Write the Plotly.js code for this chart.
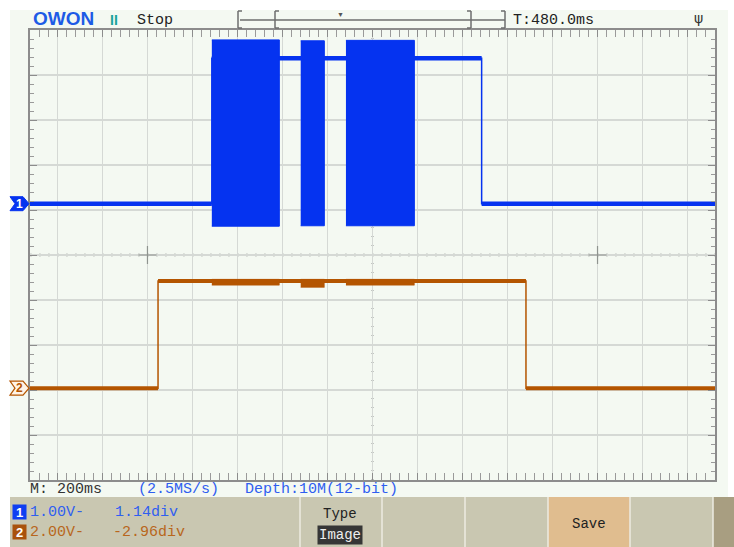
<!DOCTYPE html>
<html>
<head>
<meta charset="utf-8">
<script src="https://cdn.plot.ly/plotly-3.0.1.min.js"></script>
<style>html,body{margin:0;padding:0;background:#fff;}#chart{width:734px;height:547px;}</style>
</head>
<body>
<div id="chart"></div>
<script>
// ---- Scope settings ----
const timebaseMs = 200;          // M: 200ms per division
const ch1VoltsPerDiv = 1.0;      // 1.00V
const ch1OffsetDiv = 1.14;       // 1.14div
const ch2VoltsPerDiv = 2.0;      // 2.00V
const ch2OffsetDiv = -2.96;      // -2.96div
const halfSpanMs = 1522;         // visible half width of the record (ms, from screen centre)

// ---- Channel 1 (blue): step level in volts, time in ms from screen centre ----
const ch1Times  = [-1522, -714, 485, 1522];
const ch1Levels = [0, 3.23, 0, 0];
// Channel 1 bursts (envelope)
const burstStart = [-714, -319, -118];
const burstEnd   = [-414, -214, 186];
const burstHigh  = [3.64, 3.62, 3.63];
const burstLow   = [-0.50, -0.49, -0.49];

// ---- Channel 2 (orange): step level in volts ----
const ch2Times  = [-1522, -953, 682, 1522];
const ch2Levels = [0, 4.76, 0, 0];
// small sags of channel 2 during the bursts
const ch2DipLow = [4.58, 4.48, 4.58];

// ---- Screen texts ----
const topTexts = {brand: "OWON", state: "Stop", trig: "T:480.0ms"};
const statusTexts = ["M: 200ms", "(2.5MS/s)", "Depth:10M(12-bit)"];
const ch1Texts = ["1.00V-", "1.14div"];
const ch2Texts = ["2.00V-", "-2.96div"];
const menuTexts = ["Type", "Image", "Save"];

// ---- colours ----
const C1 = '#0533f0', C2 = '#b45500', C1T = '#2f5ef0', C2T = '#b8661c';
const SCREEN = '#f4f9f2';

// ---- geometry helpers (pixel -> paper) ----
const L = 30, R = 715, T = 30, B = 480;
const px = v => (v - L) / (R - L);
const py = v => (B - v) / (B - T);

function segs(times, levels) {
  const x = [], y = [];
  for (let i = 0; i < times.length - 1; i++) {
    x.push(times[i], times[i + 1], null);
    y.push(levels[i], levels[i], null);
  }
  return {x, y};
}

const traces = [];
// channel 2
traces.push({x: ch2Times, y: ch2Levels, yaxis: 'y3', mode: 'lines', line: {shape: 'hv', color: C2, width: 1.5}, hoverinfo: 'skip'});
const s2 = segs(ch2Times, ch2Levels);
traces.push({x: s2.x, y: s2.y, yaxis: 'y3', mode: 'lines', line: {color: C2, width: 4}, connectgaps: false, hoverinfo: 'skip'});
for (let i = 0; i < burstStart.length; i++) {
  const hi = ch2Levels[1] + 0.08;
  traces.push({x: [burstStart[i], burstEnd[i], burstEnd[i], burstStart[i]], y: [ch2DipLow[i], ch2DipLow[i], hi, hi],
    yaxis: 'y3', mode: 'lines', fill: 'toself', fillcolor: C2, line: {color: C2, width: 0.5}, hoverinfo: 'skip'});
}
// channel 1
traces.push({x: ch1Times, y: ch1Levels, yaxis: 'y2', mode: 'lines', line: {shape: 'hv', color: C1, width: 1.5}, hoverinfo: 'skip'});
const s1 = segs(ch1Times, ch1Levels);
traces.push({x: s1.x, y: s1.y, yaxis: 'y2', mode: 'lines', line: {color: C1, width: 4.5}, connectgaps: false, hoverinfo: 'skip'});
for (let i = 0; i < burstStart.length; i++) {
  traces.push({x: [burstStart[i], burstEnd[i], burstEnd[i], burstStart[i]], y: [burstLow[i], burstLow[i], burstHigh[i], burstHigh[i]],
    yaxis: 'y2', mode: 'lines', fill: 'toself', fillcolor: C1, line: {color: C1, width: 1}, hoverinfo: 'skip'});
}
// centre crosses at +/-5 div
traces.push({x: [-5 * timebaseMs, 5 * timebaseMs], y: [0, 0], mode: 'markers',
  marker: {symbol: 'cross-thin', size: 13, line: {color: '#8f948f', width: 1.2}}, hoverinfo: 'skip'});

const shapes = [];
const ann = [];
function rect(x0, y0, x1, y1, fill, layer) {
  shapes.push({type: 'rect', xref: 'paper', yref: 'paper', x0: px(x0), x1: px(x1), y0: py(y1), y1: py(y0),
    fillcolor: fill, line: {width: 0}, layer: layer || 'below'});
}
function pline(x0, y0, x1, y1, color, w) {
  shapes.push({type: 'line', xref: 'paper', yref: 'paper', x0: px(x0), x1: px(x1), y0: py(y0), y1: py(y1),
    line: {color: color, width: w || 1}});
}
const MONO = 'Liberation Mono, DejaVu Sans Mono, monospace';
function txt(x, y, t, color, opts) {
  ann.push(Object.assign({xref: 'paper', yref: 'paper', x: px(x), y: py(y), text: t, showarrow: false,
    xanchor: 'left', yanchor: 'middle', font: {family: MONO, size: 15, color: color}}, opts || {}));
}
function ctxt(x, y, t, opts) {
  ann.push(Object.assign({xref: 'paper', yref: 'paper', x: px(x), y: py(y), text: t, showarrow: false,
    xanchor: 'center', yanchor: 'middle', font: {family: MONO, size: 14, color: '#222'}}, opts || {}));
}

// screen background
rect(10, 10, 728, 497, SCREEN);
// bottom panel
rect(10, 497, 734, 547, '#c9c7b1');
rect(548, 497, 630, 547, '#e0bd8f');
rect(713, 497, 734, 547, '#a89e81');
[300, 382, 465, 548, 630, 713].forEach(x => pline(x, 497, x, 547, '#ecebe2', 1.5));

// centre dotted lines
shapes.push({type: 'line', xref: 'x', yref: 'y', x0: -1520, x1: 1522, y0: 0, y1: 0, line: {color: '#9a9e9a', width: 3, dash: '1px,8px'}, layer: 'below'});
shapes.push({type: 'line', xref: 'x', yref: 'y', x0: 0, x1: 0, y0: -5, y1: 5, line: {color: '#c2c6c2', width: 3, dash: '1px,8px'}, layer: 'below'});

// top bracket graphic
pline(240, 20, 505, 20, '#6e6e6e', 1.5);
function bracket(x, dir) {
  pline(x, 11, x, 28, '#6e6e6e', 1.5);
  pline(x, 11, x + 4 * dir, 11, '#6e6e6e', 1.5);
  pline(x, 28, x + 4 * dir, 28, '#6e6e6e', 1.5);
}
bracket(238, 1); bracket(275, 1); bracket(471, -1); bracket(505, -1);
ctxt(340, 15, '▼', {font: {size: 7, color: '#555'}});

// channel markers
const markerPath = 'M-20,-7 L-7,-7 L-1,0 L-7,7 L-20,7 L-15,0 Z';
shapes.push({type: 'path', xref: 'paper', yref: 'y2', xsizemode: 'pixel', ysizemode: 'pixel', xanchor: 0, yanchor: ch1Levels[0],
  path: markerPath, fillcolor: C1, line: {color: C1, width: 1}});
shapes.push({type: 'path', xref: 'paper', yref: 'y3', xsizemode: 'pixel', ysizemode: 'pixel', xanchor: 0, yanchor: ch2Levels[0],
  path: markerPath, fillcolor: '#fff4e6', line: {color: C2, width: 1.2}});
ann.push({xref: 'paper', yref: 'y2', x: px(19), y: ch1Levels[0], xanchor: 'center', yanchor: 'middle', text: '<b>1</b>', showarrow: false,
  font: {family: 'Liberation Sans', size: 12, color: '#fff'}});
ann.push({xref: 'paper', yref: 'y3', x: px(19), y: ch2Levels[0], xanchor: 'center', yanchor: 'middle', text: '<b>2</b>', showarrow: false,
  font: {family: 'Liberation Sans', size: 12, color: C2}});

// top texts
txt(31, 19, '<b>' + topTexts.brand + '</b>', '#1d5be6', {font: {family: 'Liberation Sans, Arial', size: 19, color: '#1d5be6'}});
txt(108, 20, '<b>II</b>', '#1aa39b', {font: {family: 'Liberation Sans', size: 14, color: '#1aa39b'}});
txt(135, 20, topTexts.state, '#222');
txt(511, 20, topTexts.trig, '#222');
txt(692, 18, 'ψ', '#333', {font: {family: 'DejaVu Sans', size: 14, color: '#333'}});

// status row
txt(28, 490, statusTexts[0], '#333');
txt(136, 490, statusTexts[1], C1T);
txt(243, 490, statusTexts[2], C1T);

// channel rows
ctxt(19.5, 512, '<b>1</b>', {bgcolor: '#0f3ef2', width: 13, height: 14, borderpad: 0, font: {family: 'Liberation Sans', size: 13, color: '#fff'}});
ctxt(19.5, 532, '<b>2</b>', {bgcolor: '#a9520c', width: 13, height: 14, borderpad: 0, font: {family: 'Liberation Sans', size: 13, color: '#fff'}});
txt(28, 512, ch1Texts[0], C1T);
txt(113, 512, ch1Texts[1], C1T);
txt(28, 532, ch2Texts[0], C2T);
txt(111, 532, ch2Texts[1], C2T);

// menu
ctxt(340, 514, menuTexts[0]);
ctxt(340, 535, menuTexts[1], {bgcolor: '#363636', borderpad: 1, font: {family: MONO, size: 14, color: '#eee'}});
ctxt(589, 524, menuTexts[2]);

const gridAxis = {showgrid: true, gridcolor: '#d5d9d5', gridwidth: 1.3, zeroline: false, showticklabels: false,
  ticks: 'inside', ticklen: 7, tickcolor: '#8c8c8c', tickwidth: 1, showline: true, linecolor: '#8c8c8c', linewidth: 2,
  mirror: 'allticks', fixedrange: true};

const layout = {
  width: 734, height: 547,
  margin: {l: L, r: 734 - R, t: T, b: 547 - B, pad: 0},
  paper_bgcolor: '#ffffff', plot_bgcolor: SCREEN,
  showlegend: false, hovermode: false,
  xaxis: Object.assign({}, gridAxis, {range: [-halfSpanMs, halfSpanMs], tick0: 0, dtick: timebaseMs,
    minor: {dtick: timebaseMs / 5, ticks: 'inside', ticklen: 4, tickcolor: '#9a9a9a', showgrid: false}}),
  yaxis: Object.assign({}, gridAxis, {range: [-5, 5], tick0: 0, dtick: 1,
    minor: {dtick: 0.2, ticks: 'inside', ticklen: 4, tickcolor: '#9a9a9a', showgrid: false}}),
  yaxis2: {overlaying: 'y', range: [(-5 - ch1OffsetDiv) * ch1VoltsPerDiv, (5 - ch1OffsetDiv) * ch1VoltsPerDiv], visible: false, fixedrange: true},
  yaxis3: {overlaying: 'y', range: [(-5 - ch2OffsetDiv) * ch2VoltsPerDiv, (5 - ch2OffsetDiv) * ch2VoltsPerDiv], visible: false, fixedrange: true},
  shapes: shapes,
  annotations: ann
};

Plotly.newPlot('chart', traces, layout, {displayModeBar: false, staticPlot: true});
</script>
</body>
</html>
